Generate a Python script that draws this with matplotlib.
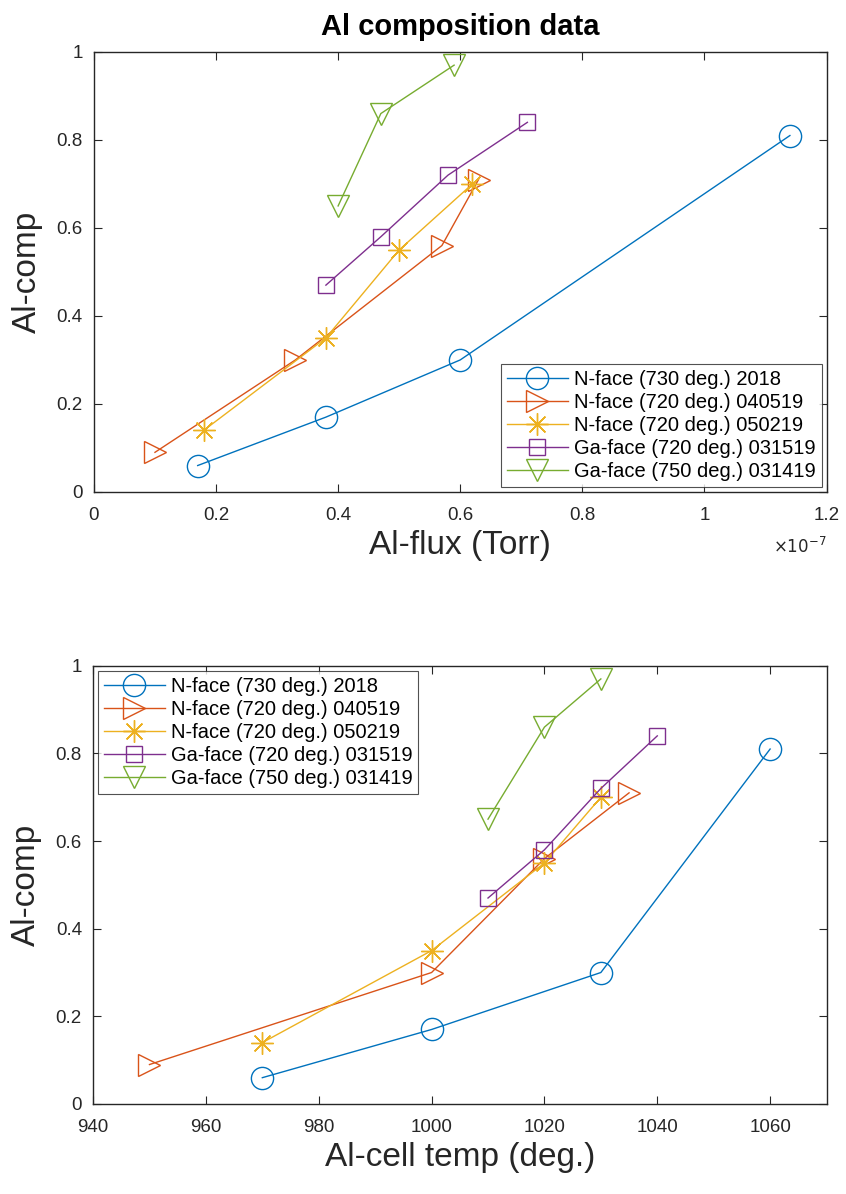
import numpy as np
import matplotlib
matplotlib.use('Agg')
import matplotlib.pyplot as plt
from matplotlib.ticker import FuncFormatter

plt.rcParams['font.family'] = ['Liberation Sans', 'DejaVu Sans']

# series labels
labels = ['N-face (730 deg.) 2018', 'N-face (720 deg.) 040519', 'N-face (720 deg.) 050219',
          'Ga-face (720 deg.) 031519', 'Ga-face (750 deg.) 031419']

# Al flux, in units of 1e-7 Torr
flux = [[0.17, 0.38, 0.60, 1.14],
        [0.10, 0.33, 0.57, 0.63],
        [0.18, 0.38, 0.50, 0.62],
        [0.38, 0.47, 0.58, 0.71],
        [0.40, 0.47, 0.59]]

# Al cell temperature (deg.)
temp = [[970, 1000, 1030, 1060],
        [950, 1000, 1020, 1035],
        [970, 1000, 1020, 1030],
        [1010, 1020, 1030, 1040],
        [1010, 1020, 1030]]

# Al composition
comp = [[0.06, 0.17, 0.30, 0.81],
        [0.09, 0.30, 0.56, 0.71],
        [0.14, 0.35, 0.55, 0.70],
        [0.47, 0.58, 0.72, 0.84],
        [0.65, 0.86, 0.97]]

colors = ['#0072BD', '#D95319', '#EDB120', '#7E2F8E', '#77AC30']
markers = ['o', '>', (8, 2, 0), 's', 'v']
msizes = [16, 16, 16, 12, 16]
axcol = '#262626'


def fmt(v, pos):
    return '%g' % round(v, 6)


def style(ax):
    for sp in ax.spines.values():
        sp.set_color(axcol)
        sp.set_linewidth(1.0)
    ax.tick_params(direction='in', length=6, width=0.8, colors=axcol, labelsize=13.5,
                   top=True, right=True)
    ax.tick_params(axis='x', pad=11)
    ax.tick_params(axis='y', pad=8)
    ax.xaxis.set_major_formatter(FuncFormatter(fmt))
    ax.yaxis.set_major_formatter(FuncFormatter(fmt))


fig = plt.figure(figsize=(8.46, 11.94), dpi=100)
ax1 = fig.add_axes([0.111, 0.588, 0.866, 0.3685])
ax2 = fig.add_axes([0.110, 0.0754, 0.867, 0.367])

for i in range(5):
    for ax, xs in [(ax1, flux[i]), (ax2, temp[i])]:
        ax.plot(xs, comp[i], color=colors[i], marker=markers[i], markersize=msizes[i],
                markerfacecolor='none', markeredgewidth=1.0, linewidth=1.0, label=labels[i])

ax1.set_xlim(0, 1.2)
ax1.set_ylim(0, 1)
ax1.set_xticks(np.arange(0, 1.21, 0.2))
ax1.set_yticks(np.arange(0, 1.01, 0.2))
style(ax1)
ax1.set_xlabel('Al-flux (Torr)', fontsize=24, color=axcol, labelpad=4)
ax1.set_ylabel('Al-comp', fontsize=24, color=axcol, labelpad=10)
ax1.set_title('Al composition data', fontsize=21, fontweight='bold', color='black', pad=12)
ax1.text(1.0, -0.1, r'$\times10^{-7}$', transform=ax1.transAxes, ha='right', va='top',
         fontsize=12, color=axcol)

ax2.set_xlim(940, 1070)
ax2.set_ylim(0, 1)
ax2.set_xticks(np.arange(940, 1061, 20))
ax2.set_yticks(np.arange(0, 1.01, 0.2))
style(ax2)
ax2.set_xlabel('Al-cell temp (deg.)', fontsize=24, color=axcol, labelpad=4)
ax2.set_ylabel('Al-comp', fontsize=24, color=axcol, labelpad=10)

for ax, loc in [(ax1, 'lower right'), (ax2, 'upper left')]:
    leg = ax.legend(loc=loc, fontsize=14.5, frameon=True, fancybox=False, edgecolor=axcol,
                    borderpad=0.3, labelspacing=0.2, handlelength=3.0, handletextpad=0.3,
                    borderaxespad=0.25)
    leg.get_frame().set_linewidth(0.8)

fig.savefig('out.png', dpi=100)
